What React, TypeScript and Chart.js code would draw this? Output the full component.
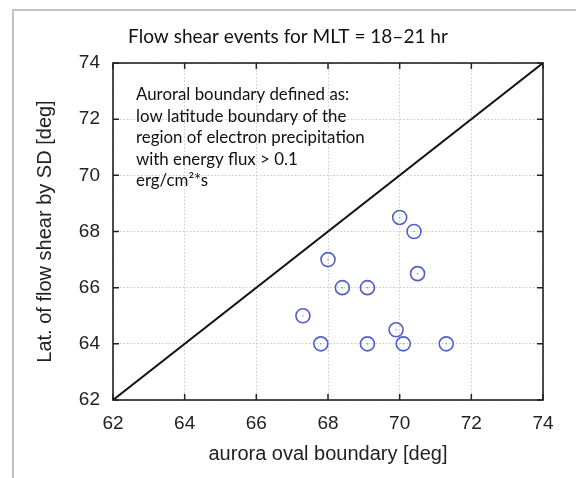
import React, { useEffect, useRef } from "react";
import { Chart, registerables } from "chart.js";

Chart.register(...registerables);

// ---- data ----
const boundaryX = [70.0, 70.4, 68.0, 70.5, 68.4, 69.1, 67.3, 69.9, 67.8, 69.1, 70.1, 71.3];
const shearY = [68.5, 68.0, 67.0, 66.5, 66.0, 66.0, 65.0, 64.5, 64.0, 64.0, 64.0, 64.0];
const diagonalX = [62, 74];
const diagonalY = [62, 74];
const tickValues = [62, 64, 66, 68, 70, 72, 74];
const axisMin = 62;
const axisMax = 74;
const tickStep = 2;

const chartTitle = "Flow shear events for MLT = 18\u201321 hr";
const xAxisTitle = "aurora oval boundary [deg]";
const yAxisTitle = "Lat. of flow shear by SD [deg]";
const noteLines = [
  "Auroral boundary defined as:",
  "low latitude boundary of the",
  "region of electron precipitation",
  "with energy flux > 0.1",
  "erg/cm\u00B2*s",
];

const W = 576;
const H = 478;
const humanist = "Lato, 'Open Sans', sans-serif";
const arial = "'Liberation Sans', Arial, Helvetica, sans-serif";

function fitSize(ctx: CanvasRenderingContext2D, text: string, family: string, target: number) {
  ctx.font = `100px ${family}`;
  const w = ctx.measureText(text).width;
  return (100 * target) / w;
}

const decorPlugin = {
  id: "decor",
  beforeDraw(chart: any) {
    const ctx = chart.ctx as CanvasRenderingContext2D;
    ctx.save();
    ctx.fillStyle = "#ffffff";
    ctx.fillRect(0, 0, chart.width, chart.height);
    // page frame
    ctx.fillStyle = "#c2c2c8";
    ctx.fillRect(12, 9, 2, chart.height - 9);
    ctx.fillRect(12, 9, chart.width - 12, 2);
    ctx.restore();
  },
  afterDraw(chart: any) {
    const ctx = chart.ctx as CanvasRenderingContext2D;
    const a = chart.chartArea;
    const xs = chart.scales.x;
    const ys = chart.scales.y;
    ctx.save();
    // inward tick marks
    ctx.strokeStyle = "#222";
    ctx.lineWidth = 1.5;
    const tl = 6;
    ctx.beginPath();
    for (const v of tickValues) {
      const px = xs.getPixelForValue(v);
      ctx.moveTo(px, a.bottom);
      ctx.lineTo(px, a.bottom - tl);
      ctx.moveTo(px, a.top);
      ctx.lineTo(px, a.top + tl);
      const py = ys.getPixelForValue(v);
      ctx.moveTo(a.left, py);
      ctx.lineTo(a.left + tl, py);
      ctx.moveTo(a.right, py);
      ctx.lineTo(a.right - tl, py);
    }
    ctx.stroke();
    // box
    ctx.lineWidth = 1.6;
    ctx.strokeRect(a.left, a.top, a.right - a.left, a.bottom - a.top);

    // title
    const ts = fitSize(ctx, chartTitle, humanist, 320);
    ctx.font = `${ts}px ${humanist}`;
    ctx.fillStyle = "#111";
    ctx.textAlign = "center";
    ctx.textBaseline = "alphabetic";
    ctx.fillText(chartTitle, W / 2, 43);

    // note
    const ns = fitSize(ctx, noteLines[2], humanist, 229);
    ctx.font = `${ns}px ${humanist}`;
    ctx.textAlign = "left";
    ctx.fillStyle = "#111";
    noteLines.forEach((line, i) => {
      ctx.fillText(line, 136, 100 + i * 21.5);
    });
    ctx.restore();
  },
};

export default function App() {
  const ref = useRef<HTMLCanvasElement | null>(null);

  useEffect(() => {
    if (!ref.current) return;
    const points = boundaryX.map((x, i) => ({ x, y: shearY[i] }));
    const diag = diagonalX.map((x, i) => ({ x, y: diagonalY[i] }));
    const tickFont = { family: arial, size: 19 };
    const titleFont = { family: arial, size: 20 };
    const chart = new Chart(ref.current, {
      type: "scatter",
      data: {
        datasets: [
          {
            type: "line",
            data: diag,
            borderColor: "#111111",
            borderWidth: 2,
            pointRadius: 0,
            fill: false,
            order: 3,
          } as any,
          {
            data: points,
            pointRadius: 7,
            pointHoverRadius: 7,
            borderColor: "#5060c8",
            borderWidth: 1.6,
            backgroundColor: "rgba(0,0,0,0)",
            order: 2,
          },
          {
            data: points,
            pointRadius: 0.8,
            borderWidth: 0,
            backgroundColor: "#8b96d6",
            order: 1,
          },
        ],
      },
      options: {
        animation: false,
        responsive: false,
        events: [],
        layout: { padding: { left: 0, top: 63, right: 33, bottom: 0 } },
        plugins: {
          legend: { display: false },
          title: { display: false },
          tooltip: { enabled: false },
        },
        scales: {
          x: {
            type: "linear",
            min: axisMin,
            max: axisMax,
            afterFit: (s: any) => {
              s.height = 78;
            },
            ticks: {
              stepSize: tickStep,
              font: tickFont,
              color: "#222",
              padding: 12,
              maxRotation: 0,
            },
            grid: { color: "#c8c8c8", lineWidth: 1, drawTicks: false },
            border: { display: false, dash: [1.5, 2] },
            title: {
              display: true,
              text: xAxisTitle,
              font: titleFont,
              color: "#222",
              padding: { top: 0, bottom: 12 },
            },
          },
          y: {
            type: "linear",
            min: axisMin,
            max: axisMax,
            afterFit: (s: any) => {
              s.width = 113;
            },
            ticks: {
              stepSize: tickStep,
              font: tickFont,
              color: "#222",
              padding: 13,
            },
            grid: { color: "#c8c8c8", lineWidth: 1, drawTicks: false },
            border: { display: false, dash: [1.5, 2] },
            title: {
              display: true,
              text: yAxisTitle,
              font: titleFont,
              color: "#222",
              padding: { top: 33, bottom: 0 },
            },
          },
        },
      },
      plugins: [decorPlugin],
    });
    return () => chart.destroy();
  }, []);

  return (
    <div style={{ position: "absolute", left: 0, top: 0, width: W, height: H, background: "#fff" }}>
      <canvas ref={ref} width={W} height={H} style={{ display: "block" }} />
    </div>
  );
}
